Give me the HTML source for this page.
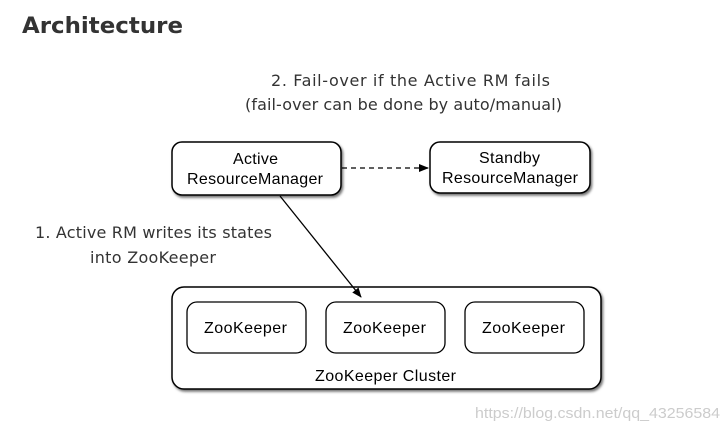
<!DOCTYPE html>
<html><head><style>
body{margin:0;background:#fff;width:728px;height:433px;overflow:hidden;font-family:"DejaVu Sans","Liberation Sans",sans-serif;}
</style></head><body>
<svg width="728" height="433" xmlns="http://www.w3.org/2000/svg">
<defs>
<filter id="s" x="-10%" y="-10%" width="130%" height="140%"><feDropShadow dx="1.5" dy="2" stdDeviation="1.2" flood-color="#000" flood-opacity="0.55"/></filter>
<marker id="a" markerWidth="10" markerHeight="10" refX="9" refY="5" orient="auto" markerUnits="userSpaceOnUse"><path d="M0,1 L10,5 L0,9 z" fill="#000"/></marker>
</defs>
<text x="22" y="33" font-family="DejaVu Sans, sans-serif" font-weight="bold" font-size="22" fill="#333" textLength="161" lengthAdjust="spacingAndGlyphs">Architecture</text>
<g font-family="DejaVu Sans, sans-serif" font-size="16" fill="#333" lengthAdjust="spacingAndGlyphs">
<text x="271" y="86" textLength="279">2. Fail-over if the Active RM fails</text>
<text x="245" y="110" textLength="317">(fail-over can be done by auto/manual)</text>
<text x="35" y="238" textLength="237">1. Active RM writes its states</text>
<text x="90" y="263" textLength="126">into ZooKeeper</text>
</g>
<g fill="#fff" stroke="#000" stroke-width="1.5" filter="url(#s)">
<rect x="172" y="142" width="169" height="53" rx="10"/>
<rect x="430" y="142" width="160" height="51" rx="10"/>
<rect x="172" y="287" width="429" height="102" rx="12"/>
</g>
<g fill="#fff" stroke="#000" stroke-width="1.3">
<rect x="187" y="302" width="119" height="51" rx="10"/>
<rect x="326" y="302" width="119" height="51" rx="10"/>
<rect x="465" y="302" width="119" height="51" rx="10"/>
</g>
<line x1="342" y1="168" x2="428" y2="168" stroke="#000" stroke-width="1.3" stroke-dasharray="5,4" marker-end="url(#a)"/>
<line x1="280" y1="196" x2="361" y2="297" stroke="#000" stroke-width="1.3" marker-end="url(#a)"/>
<g font-family="Liberation Sans, sans-serif" font-size="16" fill="#000" lengthAdjust="spacingAndGlyphs">
<text x="233" y="164" textLength="45">Active</text>
<text x="187" y="184" textLength="136">ResourceManager</text>
<text x="479" y="163" textLength="61">Standby</text>
<text x="442" y="183" textLength="136">ResourceManager</text>
<text x="204" y="333" textLength="83">ZooKeeper</text>
<text x="343" y="333" textLength="83">ZooKeeper</text>
<text x="482" y="333" textLength="83">ZooKeeper</text>
<text x="315" y="381" textLength="141">ZooKeeper Cluster</text>
</g>
<text x="475" y="418" textLength="245" lengthAdjust="spacingAndGlyphs" font-family="Liberation Sans, sans-serif" font-size="15" fill="#ccc">https://blog.csdn.net/qq_43256584</text>
</svg>
</body></html>
